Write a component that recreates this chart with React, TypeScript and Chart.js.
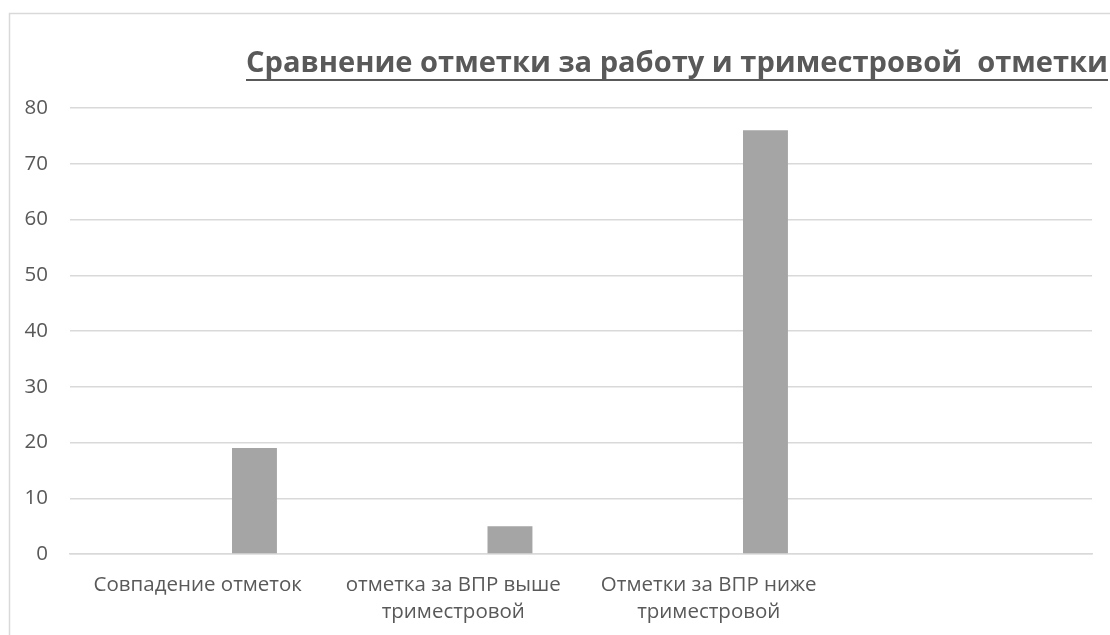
import React, { useEffect, useRef } from "react";
import { Chart, registerables } from "chart.js";

Chart.register(...registerables);

const TITLE = "Сравнение отметки за работу и триместровой  отметки";
const CATEGORIES: (string | string[])[] = [
  "Совпадение отметок",
  ["отметка за ВПР выше", "триместровой"],
  ["Отметки за ВПР ниже", "триместровой"],
  "",
];
const SERIES_EMPTY: (number | null)[] = [null, null, null, null];
const SERIES_VALUES: (number | null)[] = [19, 5, 76, null];
const Y_MIN = 0;
const Y_MAX = 80;
const Y_STEP = 10;

const TEXT = "#595959";
const GRID = "#d9d9d9";
const BAR = "#a5a5a5";

const framePlugin = {
  id: "frameAndTitle",
  beforeDraw(chart: any) {
    const ctx = chart.ctx;
    ctx.save();
    ctx.fillStyle = "#ffffff";
    ctx.fillRect(0, 0, chart.width, chart.height);
    ctx.strokeStyle = GRID;
    ctx.lineWidth = 1.5;
    ctx.beginPath();
    ctx.moveTo(9.5, chart.height);
    ctx.lineTo(9.5, 13.5);
    ctx.lineTo(chart.width, 13.5);
    ctx.stroke();
    ctx.restore();
  },
  afterDraw(chart: any) {
    const ctx = chart.ctx;
    ctx.save();
    ctx.font = "bold 28px 'Open Sans'";
    ctx.fillStyle = TEXT;
    ctx.textBaseline = "alphabetic";
    ctx.textAlign = "left";
    const x0 = 246;
    const targetW = 862;
    const w = ctx.measureText(TITLE).width;
    const sx = targetW / w;
    ctx.translate(x0, 72);
    ctx.scale(sx, 1);
    ctx.fillText(TITLE, 0, 0);
    ctx.restore();
    ctx.save();
    ctx.fillStyle = TEXT;
    ctx.fillRect(x0, 79, targetW, 2);
    ctx.restore();
  },
};

export default function App() {
  const ref = useRef<HTMLCanvasElement | null>(null);
  useEffect(() => {
    if (!ref.current) return;
    const chart = new Chart(ref.current, {
      type: "bar",
      data: {
        labels: CATEGORIES,
        datasets: [
          {
            label: "Ряд 1",
            data: SERIES_EMPTY,
            backgroundColor: BAR,
            categoryPercentage: 0.888,
            barPercentage: 0.396,
          },
          {
            label: "Ряд 2",
            data: SERIES_VALUES,
            backgroundColor: BAR,
            categoryPercentage: 0.888,
            barPercentage: 0.396,
          },
        ],
      },
      options: {
        responsive: false,
        animation: false,
        devicePixelRatio: 1,
        layout: { padding: { left: 0, right: 18, top: 108, bottom: 0 } },
        plugins: {
          legend: { display: false },
          title: { display: false },
          tooltip: { enabled: false },
        },
        scales: {
          x: {
            grid: { display: false, drawTicks: false },
            border: { display: true, color: GRID, width: 1.5 },
            ticks: {
              color: TEXT,
              font: { family: "'Open Sans'", size: 20.5, lineHeight: 1.3 },
              padding: 18,
              maxRotation: 0,
              autoSkip: false,
            },
            afterFit(scale: any) {
              scale.height = 81;
            },
          },
          y: {
            min: Y_MIN,
            max: Y_MAX,
            grid: { color: GRID, lineWidth: 1.5, drawTicks: false },
            border: { display: false },
            ticks: {
              stepSize: Y_STEP,
              color: TEXT,
              font: { family: "'Open Sans'", size: 20.5 },
              padding: 22,
            },
            afterFit(scale: any) {
              scale.width = 70;
            },
          },
        },
      },
      plugins: [framePlugin],
    });
    return () => chart.destroy();
  }, []);
  return (
    <div style={{ position: "fixed", left: 0, top: 0, width: 1110, height: 635, background: "#fff" }}>
      <canvas ref={ref} width={1110} height={635} style={{ width: 1110, height: 635 }} />
    </div>
  );
}
